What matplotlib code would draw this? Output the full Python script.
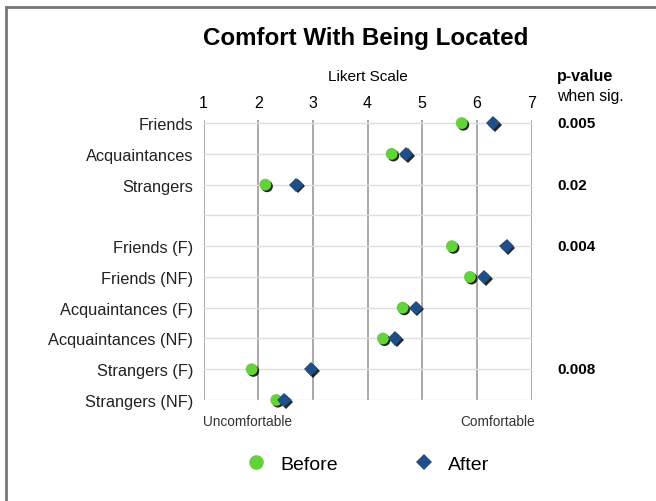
import matplotlib
matplotlib.use("Agg")
import matplotlib.pyplot as plt
import matplotlib.patheffects as pe
from matplotlib.lines import Line2D
from matplotlib.transforms import blended_transform_factory

plt.rcParams['font.family'] = ['Liberation Sans', 'DejaVu Sans']

# rows top to bottom; empty string is the spacer row
groups = ["Friends", "Acquaintances", "Strangers", "",
          "Friends (F)", "Friends (NF)", "Acquaintances (F)",
          "Acquaintances (NF)", "Strangers (F)", "Strangers (NF)"]
before = [5.72, 4.44, 2.13, None, 5.54, 5.87, 4.64, 4.28, 1.88, 2.33]
after = [6.30, 4.70, 2.70, None, 6.54, 6.13, 4.88, 4.50, 2.97, 2.48]
p_values = ["0.005", "", "0.02", "", "0.004", "", "", "", "0.008", ""]
likert_ticks = [1, 2, 3, 4, 5, 6, 7]

green = "#64d23a"
blue = "#1f4f86"

fig = plt.figure(figsize=(6.56, 5.02), dpi=100)
ax = fig.add_axes([203.5 / 656, 1 - 401 / 502, 328.2 / 656, 280 / 502])

rows = list(range(len(groups)))
shadow = [pe.SimplePatchShadow(offset=(1.2, -1.2), shadow_rgbFace="black", alpha=0.85), pe.Normal()]

bx = [b for b in before if b is not None]
by = [r for r, b in zip(rows, before) if b is not None]
ax_ = [a for a in after if a is not None]
ay = [r for r, a in zip(rows, after) if a is not None]

ax.plot(bx, by, "o", color=green, markersize=8.5, markeredgewidth=0,
        path_effects=shadow, zorder=3, clip_on=False)
ax.plot(ax_, ay, "D", color=blue, markersize=7.2, markeredgewidth=0,
        path_effects=shadow, zorder=4, clip_on=False)

ax.set_xlim(1, 7)
ax.set_ylim(9, -0.1)
ax.set_xticks(likert_ticks)
ax.xaxis.tick_top()
ax.set_yticks(rows, groups)
ax.tick_params(length=0)
ax.tick_params(axis="x", labelsize=11.5, pad=7)
ax.tick_params(axis="y", labelsize=11.8, pad=7.5, colors="#222222")
ax.xaxis.set_label_position("top")
ax.set_xlabel("Likert Scale", fontsize=11, labelpad=11)

for s in ax.spines.values():
    s.set_visible(False)
ax.grid(axis="x", color="#999999", linewidth=1.2)
ax.grid(axis="y", color="#dddddd", linewidth=1.0)
ax.set_axisbelow(True)

# p-value column
trans = blended_transform_factory(ax.transAxes, ax.transData)
px = (557 - 203.5) / 328.2
for r, p in zip(rows, p_values):
    if p:
        ax.text(px, r, p, transform=trans, fontsize=11, fontweight="bold",
                va="center", ha="left")
ax.text(px, -1.56, "p-value", transform=trans, fontsize=11.5, fontweight="bold",
        va="center", ha="left")
ax.text(px, -0.9, "when sig.", transform=trans, fontsize=11.3,
        va="center", ha="left")

ax.text(1, 9.68, "Uncomfortable", fontsize=9.8, ha="left", va="center", color="#333333")
ax.text(7.05, 9.68, "Comfortable", fontsize=9.8, ha="right", va="center", color="#333333")

fig.text(366 / 656, 1 - 38 / 502, "Comfort With Being Located", fontsize=17.4,
         fontweight="bold", ha="center", va="center")

handles = [Line2D([], [], marker="o", linestyle="none", color=green, markersize=10.5, markeredgewidth=0),
           Line2D([], [], marker="D", linestyle="none", color=blue, markersize=8, markeredgewidth=0)]
fig.legend(handles, ["Before", "After"], loc="center", bbox_to_anchor=(368 / 656, 1 - 465 / 502),
           ncol=2, frameon=False, fontsize=14, columnspacing=3.95, handlelength=1,
           handletextpad=0.74)

# page frame
frame_kw = dict(color="#777777", linewidth=2, transform=fig.transFigure)
fig.add_artist(Line2D([6 / 656, 6 / 656], [0, 1 - 8 / 502], **frame_kw))
fig.add_artist(Line2D([6 / 656, 1], [1 - 8 / 502, 1 - 8 / 502], **frame_kw))

fig.savefig("out.png", dpi=100)
